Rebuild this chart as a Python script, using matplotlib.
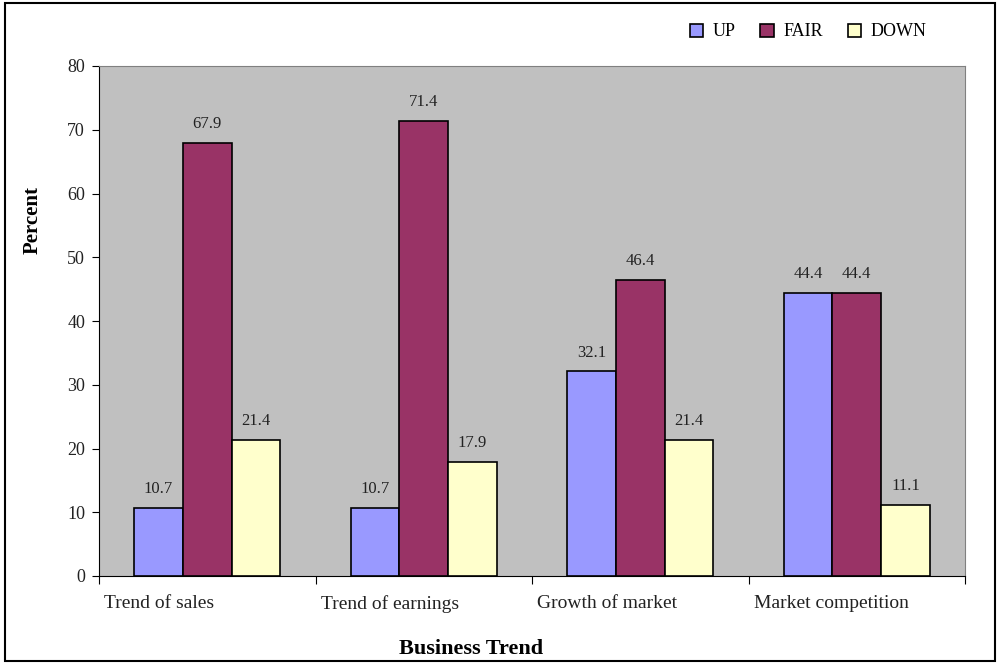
import numpy as np
import matplotlib.pyplot as plt
from matplotlib.patches import Rectangle

categories = ['Trend of sales', 'Trend of earnings', 'Growth of market', 'Market competition']
series_names = ['UP', 'FAIR', 'DOWN']
up = [10.7, 10.7, 32.1, 44.4]
fair = [67.9, 71.4, 46.4, 44.4]
down = [21.4, 17.9, 21.4, 11.1]
colors = ['#9999FF', '#993366', '#FFFFCC']

plt.rcParams['font.family'] = ['Liberation Serif', 'DejaVu Serif']

fig = plt.figure(figsize=(9.99, 6.63), dpi=100)
ax = fig.add_axes([99 / 999, 87 / 663, 866 / 999, 510 / 663])
ax.set_facecolor('#C0C0C0')

x = np.arange(len(categories))
w = 0.225
for i, (vals, name) in enumerate(zip([up, fair, down], series_names)):
    pos = x + (i - 1) * w
    bars = ax.bar(pos, vals, width=w, color=colors[i], edgecolor='black',
                  linewidth=1.2, label=name, zorder=3)
    for b, v in zip(bars, vals):
        ax.text(b.get_x() + b.get_width() / 2, v + 1.7, f'{v:.1f}',
                ha='center', va='bottom', fontsize=12, color='#222222')

ax.set_xlim(-0.5, len(categories) - 0.5)
ax.set_ylim(0, 80)
ax.set_yticks(range(0, 81, 10))
ax.tick_params(axis='y', direction='out', length=5, labelsize=13, pad=5,
               labelcolor='#222222')
ax.set_xticks(np.arange(-0.5, len(categories) + 0.5, 1.0))
ax.set_xticklabels([])
ax.tick_params(axis='x', direction='out', length=6)
for i, c in enumerate(categories):
    ax.text(i - 0.475, -3.0, c, ha='left', va='top', fontsize=14,
            color='#222222')

for s in ['top', 'right']:
    ax.spines[s].set_color('#808080')
for s in ['left', 'bottom']:
    ax.spines[s].set_color('black')

fig.text(33 / 999, 1 - 220 / 663, 'Percent', rotation=90, ha='center',
         va='center', fontsize=15, fontweight='bold')
fig.text(471 / 999, 1 - 649 / 663, 'Business Trend', ha='center',
         va='center', fontsize=16, fontweight='bold')

ax.legend(loc='center', bbox_to_anchor=(808 / 999, 1 - 32 / 663),
          bbox_transform=fig.transFigure, ncol=3, frameon=False,
          fontsize=13, handlelength=0.75, handleheight=0.75,
          columnspacing=1.4, handletextpad=0.5)

fig.patches.append(Rectangle((5 / 999, 2 / 663), 990 / 999, 658 / 663,
                             transform=fig.transFigure, fill=False,
                             edgecolor='black', linewidth=1.5))

fig.savefig('out.png', dpi=100)
